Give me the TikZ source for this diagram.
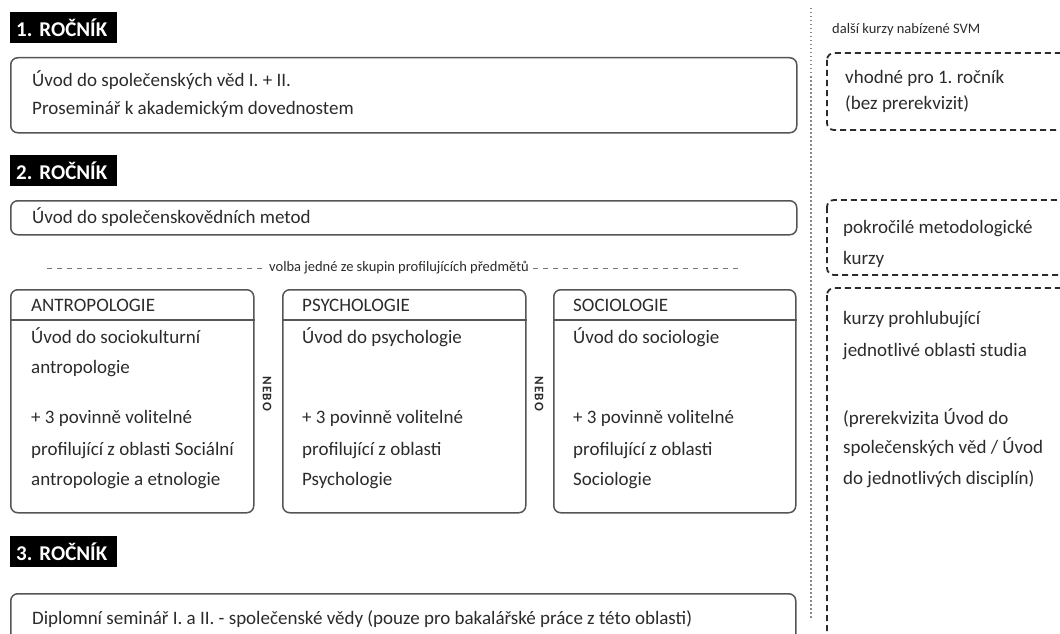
\documentclass[tikz,border=0pt]{standalone}
\usepackage{fontspec}
\setmainfont{Carlito}
\usetikzlibrary{positioning}
\definecolor{ink}{HTML}{2B2B2B}
\definecolor{edge}{HTML}{555555}
\frenchspacing

\begin{document}
\begin{tikzpicture}[x=1pt, y=-1pt,
    yearlabel/.style={fill=black, text=white, font=\fontsize{21}{21}\selectfont\bfseries,
        anchor=north west, minimum height=31pt, text width=95pt, inner xsep=6pt, inner ysep=0pt, align=left},
    coursebox/.style={draw=edge, line width=1.5pt, rounded corners=7pt, anchor=north west, inner sep=0pt},
    offerbox/.style={draw=ink, line width=1.8pt, rounded corners=7pt, dash pattern=on 6pt off 4pt},
    txt/.style={text=ink, font=\fontsize{19}{19}\selectfont, anchor=base west, inner sep=0pt},
    small/.style={text=ink, font=\fontsize{14.5}{14.5}\selectfont, inner sep=0pt},
    nebo/.style={text=ink, font=\fontsize{13}{13}\selectfont\bfseries\addfontfeature{LetterSpace=8},
        rotate=-90, inner sep=0pt}]

    \useasboundingbox (0,0) rectangle (1060,634);
    \clip (0,0) rectangle (1060,634);

    % 1. rocnik
    \node[yearlabel] (rok1) at (10,12) {1. ROČNÍK};
    \node[coursebox, minimum width=786pt, minimum height=75pt] (rok1box) at (10,57) {};
    \node[txt] (uvod) at (32,86) {Úvod do společenských věd I. + II.};
    \node[txt] (prosem) at (32,114) {Proseminář k akademickým dovednostem};

    % 2. rocnik
    \node[yearlabel] (rok2) at (10,155) {2. ROČNÍK};
    \node[coursebox, minimum width=786pt, minimum height=34pt] (rok2box) at (10,200) {};
    \node[txt] (metody) at (32,223) {Úvod do společenskovědních metod};

    \node[small] (volba) at (399,268) {volba jedné ze skupin profilujících předmětů};
    \draw[edge!80, line width=1pt, dash pattern=on 5pt off 5pt] (47,268) -- ([xshift=-4pt]volba.west);
    \draw[edge!80, line width=1pt, dash pattern=on 5pt off 5pt] ([xshift=4pt]volba.east) -- (740,268);

    \node[coursebox, minimum width=243pt, minimum height=223pt] (antbox) at (10,289) {};
    \node[coursebox, minimum width=243pt, minimum height=223pt] (psybox) at (282,289) {};
    \node[coursebox, minimum width=242pt, minimum height=223pt] (socbox) at (553,289) {};
    \draw[edge, line width=1.5pt] (antbox.west |- 0,320) -- (antbox.east |- 0,320);
    \draw[edge, line width=1.5pt] (psybox.west |- 0,320) -- (psybox.east |- 0,320);
    \draw[edge, line width=1.5pt] (socbox.west |- 0,320) -- (socbox.east |- 0,320);

    \node[nebo] (nebo1) at (267,394) {NEBO};
    \node[nebo] (nebo2) at (539,394) {NEBO};

    \node[txt] (ant0) at (31,311) {ANTROPOLOGIE};
    \node[txt] (ant1) at (31,343) {Úvod do sociokulturní};
    \node[txt] (ant2) at (31,373) {antropologie};
    \node[txt] (ant3) at (31,423) {+ 3 povinně volitelné};
    \node[txt] (ant4) at (31,455) {profilující z oblasti Sociální};
    \node[txt] (ant5) at (31,485) {antropologie a etnologie};

    \node[txt] (psy0) at (302,311) {PSYCHOLOGIE};
    \node[txt] (psy1) at (302,343) {Úvod do psychologie};
    \node[txt] (psy3) at (302,423) {+ 3 povinně volitelné};
    \node[txt] (psy4) at (302,455) {profilující z oblasti};
    \node[txt] (psy5) at (302,485) {Psychologie};

    \node[txt] (soc0) at (573,311) {SOCIOLOGIE};
    \node[txt] (soc1) at (573,343) {Úvod do sociologie};
    \node[txt] (soc3) at (573,423) {+ 3 povinně volitelné};
    \node[txt] (soc4) at (573,455) {profilující z oblasti};
    \node[txt] (soc5) at (573,485) {Sociologie};

    % 3. rocnik
    \node[yearlabel] (rok3) at (10,536) {3. ROČNÍK};
    \node[coursebox, minimum width=785pt, minimum height=60pt] (rok3box) at (10,593) {};
    \node[txt] (diplom) at (32,624) {Diplomní seminář I. a II. - společenské vědy (pouze pro bakalářské práce z této oblasti)};

    % dalsi kurzy
    \draw[edge!70, line width=1.2pt, dash pattern=on 1.5pt off 2.5pt] (811,8) -- (811,618);
    \node[small, anchor=base west] (dalsi) at (832,34) {další kurzy nabízené SVM};

    \draw[offerbox] (827,53) rectangle (1090,130);
    \node[txt] (vhodne1) at (845,84) {vhodné pro 1. ročník};
    \node[txt] (vhodne2) at (845,110) {(bez prerekvizit)};

    \draw[offerbox] (827,200) rectangle (1090,275);
    \node[txt] (pokr1) at (843,233) {pokročilé metodologické};
    \node[txt] (pokr2) at (843,264) {kurzy};

    \draw[offerbox] (827,288) rectangle (1090,700);
    \node[txt] (prohl1) at (843,324) {kurzy prohlubující};
    \node[txt] (prohl2) at (843,356) {jednotlivé oblasti studia};
    \node[txt] (prer1) at (843,424) {(prerekvizita Úvod do};
    \node[txt] (prer2) at (843,453) {společenských věd / Úvod};
    \node[txt] (prer3) at (843,484) {do jednotlivých disciplín)};
\end{tikzpicture}
\end{document}
